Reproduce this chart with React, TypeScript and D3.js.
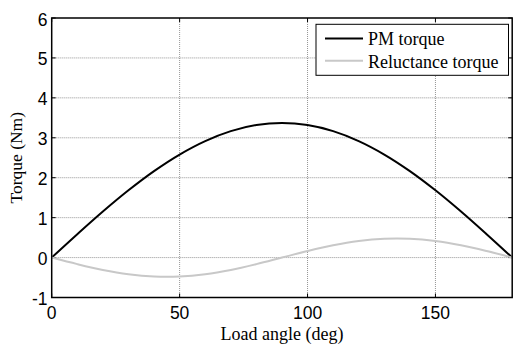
import React from "react";
import * as d3 from "d3";

const angles = [0, 10, 20, 30, 40, 50, 60, 70, 80, 90, 100, 110, 120, 130, 140, 150, 160, 170, 180];
const pmTorque = [0, 0.585, 1.153, 1.685, 2.166, 2.581, 2.918, 3.167, 3.319, 3.37, 3.319, 3.167, 2.918, 2.581, 2.166, 1.685, 1.153, 0.585, 0];
const reluctanceTorque = [0, -0.164, -0.309, -0.416, -0.473, -0.473, -0.416, -0.309, -0.164, 0, 0.164, 0.309, 0.416, 0.473, 0.473, 0.416, 0.309, 0.164, 0];
const xTicks = [0, 50, 100, 150];
const yTicks = [-1, 0, 1, 2, 3, 4, 5, 6];
const seriesNames = ["PM torque", "Reluctance torque"];
const seriesColors = ["#000000", "#c8c8c8"];

const W = 515, H = 345;
const L = 51.7, R = 512.2, T = 18, B = 297.5;
const SANS = { fontFamily: "Liberation Sans" };
const SERIF = { fontFamily: "Liberation Serif" };

export default function App() {
  const x = d3.scaleLinear().domain([0, 180]).range([L, R]);
  const y = d3.scaleLinear().domain([-1, 6]).range([B, T]);
  const line = d3.line<number>().x((_, i) => x(angles[i])).y((d) => y(d)).curve(d3.curveCatmullRom);
  const series = [pmTorque, reluctanceTorque];
  const tl = 4;
  return (
    <svg width={W} height={H} style={{ position: "absolute", left: 0, top: 0, background: "#fff" }}>
      <rect x={0} y={0} width={W} height={H} fill="#fff" />
      {xTicks.filter((t) => t > 0).map((t) => (
        <line key={"gx" + t} x1={x(t)} x2={x(t)} y1={T} y2={B} stroke="#7a7a7a" strokeWidth={0.8} strokeDasharray="1,1" />
      ))}
      {yTicks.filter((t) => t > -1 && t < 6).map((t) => (
        <line key={"gy" + t} x1={L} x2={R} y1={y(t)} y2={y(t)} stroke="#7a7a7a" strokeWidth={0.8} strokeDasharray="1,1" />
      ))}
      {xTicks.map((t) => (
        <g key={"tx" + t}>
          <line x1={x(t)} x2={x(t)} y1={B} y2={B - tl} stroke="#000" strokeWidth={1} />
          <line x1={x(t)} x2={x(t)} y1={T} y2={T + tl} stroke="#000" strokeWidth={1} />
        </g>
      ))}
      {yTicks.map((t) => (
        <g key={"ty" + t}>
          <line x1={L} x2={L + tl} y1={y(t)} y2={y(t)} stroke="#000" strokeWidth={1} />
          <line x1={R} x2={R - tl} y1={y(t)} y2={y(t)} stroke="#000" strokeWidth={1} />
        </g>
      ))}
      {series.map((s, i) => (
        <path key={"s" + i} d={line(s) || ""} fill="none" stroke={seriesColors[i]} strokeWidth={2} />
      ))}
      <rect x={L} y={T} width={R - L} height={B - T} fill="none" stroke="#000" strokeWidth={1.5} />
      {xTicks.map((t) => (
        <text key={"lx" + t} x={x(t)} y={319} textAnchor="middle" style={SANS} fontSize={17.5} fill="#000">{t}</text>
      ))}
      {yTicks.map((t) => (
        <text key={"ly" + t} x={47.5} y={y(t) + 7.5} textAnchor="end" style={SANS} fontSize={17.5} fill="#000">{t}</text>
      ))}
      <text x={(L + R) / 2} y={340} textAnchor="middle" style={SERIF} fontSize={18} fill="#000">Load angle (deg)</text>
      <text transform={`translate(22,${(T + B) / 2}) rotate(-90)`} textAnchor="middle" style={SERIF} fontSize={17.5} fill="#000">Torque (Nm)</text>
      <rect x={316} y={24.3} width={192.5} height={51} fill="#fff" stroke="#000" strokeWidth={1} />
      {seriesNames.map((n, i) => (
        <g key={"lg" + i}>
          <line x1={325} x2={363} y1={38.5 + i * 22.3} y2={38.5 + i * 22.3} stroke={seriesColors[i]} strokeWidth={2} />
          <text x={368} y={44.5 + i * 23.2} style={SERIF} fontSize={18} fill="#000">{n}</text>
        </g>
      ))}
    </svg>
  );
}
